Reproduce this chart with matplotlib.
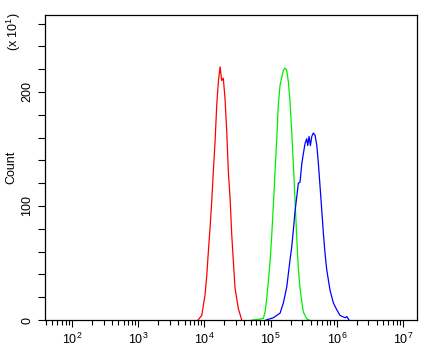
import matplotlib
matplotlib.use("Agg")
import matplotlib.pyplot as plt
from matplotlib.ticker import LogLocator, MultipleLocator, NullFormatter
import numpy as np

plt.rcParams['font.family'] = ['Liberation Sans', 'DejaVu Sans']
plt.rcParams['mathtext.default'] = 'regular'

# log10 of fluorescence intensity, counts (x10^1)
red_log = [3.903, 3.959, 4.009, 4.035, 4.059, 4.085, 4.110, 4.134, 4.160, 4.186,
           4.210, 4.236, 4.261, 4.285, 4.311, 4.337, 4.361, 4.387, 4.412, 4.437,
           4.462, 4.512, 4.563]
red_cnt = [0, 4, 22, 39, 60, 81, 104, 130, 156, 189,
           209, 222, 210, 212, 194, 165, 130, 107, 75, 51,
           28, 10, 0]

green_log = [4.719, 4.810, 4.890, 4.915, 4.941, 4.965, 4.991, 5.017, 5.041, 5.066,
             5.092, 5.116, 5.142, 5.168, 5.192, 5.217, 5.243, 5.267, 5.293, 5.318,
             5.343, 5.369, 5.394, 5.418, 5.444, 5.470, 5.494, 5.545, 5.580]
green_cnt = [0, 0.5, 1.5, 7, 19, 34, 51, 75, 101, 130,
             159, 189, 206, 213, 219, 221, 219, 209, 191, 165,
             136, 104, 72, 45, 28, 16, 7, 1, 0]

blue_log = [4.931, 5.041, 5.142, 5.192, 5.243, 5.293, 5.318, 5.343, 5.369, 5.394,
            5.418, 5.444, 5.470, 5.494, 5.520, 5.545, 5.560, 5.580, 5.600, 5.621,
            5.645, 5.671, 5.697, 5.721, 5.746, 5.772, 5.796, 5.822, 5.847, 5.872,
            5.897, 5.947, 5.998, 6.048, 6.124, 6.150, 6.184]
blue_cnt = [0, 2, 6, 15, 29, 53, 64, 79, 96, 108,
            120, 121, 137, 146, 155, 159, 153, 161, 153, 161,
            164, 162, 153, 137, 117, 96, 76, 58, 44, 35,
            26, 15, 9, 4, 2, 3, 0]

fig = plt.figure(figsize=(4.33, 3.50), dpi=100)
ax = fig.add_axes([45/433, 1-320/350, 372/433, 305/350])

ax.plot(10**np.array(red_log), red_cnt, color='#ff0000', lw=0.9)
ax.plot(10**np.array(green_log), green_cnt, color='#00ee00', lw=0.9)
ax.plot(10**np.array(blue_log), blue_cnt, color='#0000ff', lw=0.9)

ax.set_xscale('log')
ax.set_xlim(10**1.592, 10**7.21)
ax.set_ylim(0, 267.5)
ax.xaxis.set_major_locator(LogLocator(base=10, numticks=10))
ax.xaxis.set_minor_locator(LogLocator(base=10, subs=np.arange(2, 10), numticks=20))
ax.xaxis.set_minor_formatter(NullFormatter())
ax.yaxis.set_major_locator(MultipleLocator(100))
ax.yaxis.set_minor_locator(MultipleLocator(20))

for s in ax.spines.values():
    s.set_linewidth(0.9)
ax.tick_params(which='both', direction='out', width=0.8, labelsize=9)
ax.tick_params(axis='y', which='both', length=5)
ax.tick_params(axis='x', which='major', length=5)
ax.tick_params(axis='x', which='minor', length=3.5)
plt.setp(ax.get_yticklabels(), rotation=90, va='center')

ax.set_ylabel('Count', fontsize=9, labelpad=3)
fig.text(14/433, 1-32/350, '(x 10$^{1}$)', rotation=90, fontsize=9,
         ha='center', va='center')

fig.savefig('out.png', dpi=100)
